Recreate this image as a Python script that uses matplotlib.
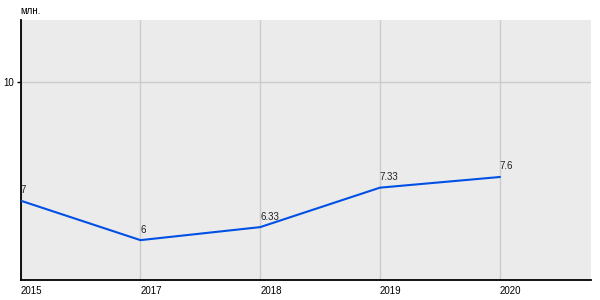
import matplotlib
matplotlib.use("Agg")
import matplotlib.pyplot as plt

plt.rcParams['font.family'] = ['Liberation Sans', 'DejaVu Sans']

# data
years = ['2015', '2017', '2018', '2019', '2020']
values = [7, 6, 6.33, 7.33, 7.6]
value_labels = ['7', '6', '6.33', '7.33', '7.6']

fig = plt.figure(figsize=(6, 3), dpi=100)
ax = fig.add_axes([0.0345, 0.0667, 0.95, 0.8667])
ax.set_facecolor('#ebebeb')

x = list(range(len(years)))
ax.plot(x, values, color='#0050e6', linewidth=1.5, zorder=3)

for xi, v, lab in zip(x, values, value_labels):
    ax.annotate(lab, (xi, v), xytext=(0, 4), textcoords='offset points',
                ha='left', va='bottom', fontsize=7, color='#222222')

ax.set_xlim(0, 4.76)
ax.set_ylim(4.99, 11.58)

ax.set_xticks(x)
ax.set_xticklabels(years, ha='left', fontsize=7)
ax.set_yticks([10])
ax.set_yticklabels(['10'], fontsize=7)
ax.tick_params(axis='x', length=0, pad=4)
ax.tick_params(axis='y', length=3, width=1, pad=2)

ax.grid(True, color='#cccccc', linewidth=1)
ax.set_axisbelow(True)

for s in ['top', 'right']:
    ax.spines[s].set_visible(False)
ax.spines['left'].set_linewidth(1.3)
ax.spines['bottom'].set_linewidth(1.3)

fig.text(0.034, 0.962, 'млн.', fontsize=7, ha='left', va='center')

fig.savefig('out.png', dpi=100)
